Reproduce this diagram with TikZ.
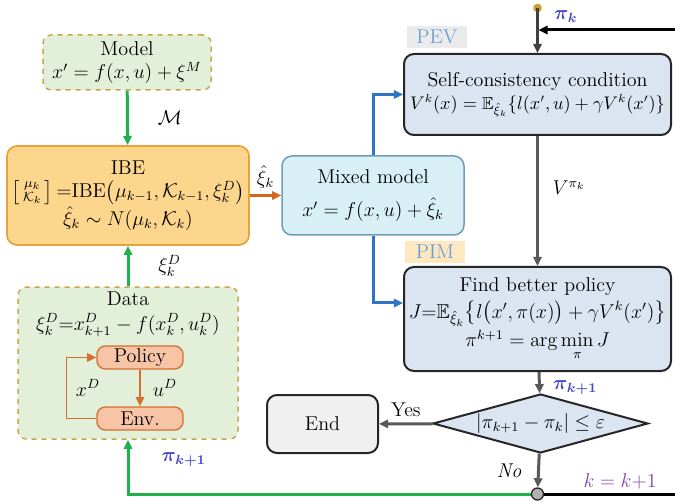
\documentclass[tikz,border=0pt]{standalone}
\usepackage{amsmath,amssymb}
\usepackage{tikz}
\usetikzlibrary{arrows.meta,calc,positioning,shapes.geometric}
\definecolor{FlowGreen}{HTML}{1FB24A}
\definecolor{FlowBlue}{HTML}{2E75C6}
\definecolor{FlowOrange}{HTML}{D5661F}
\definecolor{FlowGray}{HTML}{595959}
\definecolor{EdgeDark}{HTML}{262626}
\definecolor{ModelFill}{HTML}{E2EFD9}
\definecolor{ModelEdge}{HTML}{C9A64A}
\definecolor{IBEFill}{HTML}{FCD68C}
\definecolor{IBEEdge}{HTML}{E8A33C}
\definecolor{MixedFill}{HTML}{D8F0F5}
\definecolor{MixedEdge}{HTML}{6D9EB8}
\definecolor{StepFill}{HTML}{DBE5F1}
\definecolor{EndFill}{HTML}{F0F0F0}
\definecolor{EnvFill}{HTML}{F7C4A6}
\definecolor{EnvEdge}{HTML}{D3702F}
\definecolor{TagText}{HTML}{6F9FD8}
\definecolor{PiBlue}{HTML}{4848C8}
\definecolor{IterPurple}{HTML}{8040B0}
\definecolor{DotGold}{HTML}{C8A030}

\begin{document}
\begin{tikzpicture}[x=0.6pt, y=-0.6pt, font=\large,
    tip/.style={-{Triangle[length=5.5pt,width=5pt]}},
    dashbox/.style={draw=ModelEdge, dashed, fill=ModelFill, rounded corners=5pt, line width=0.9pt},
    stepbox/.style={draw=EdgeDark, fill=StepFill, rounded corners=6pt, line width=1.2pt, align=center, inner sep=0pt},
    envbox/.style={draw=EnvEdge, fill=EnvFill, rounded corners=5pt, line width=0.8pt,
        minimum width=51.6pt, minimum height=13.8pt, inner sep=0pt},
    tagbox/.style={text=TagText, minimum width=36pt, minimum height=13.2pt, inner sep=0pt},
    greenline/.style={tip, draw=FlowGreen, line width=1.8pt},
    blueline/.style={tip, draw=FlowBlue, line width=1.8pt},
    grayline/.style={tip, draw=FlowGray, line width=1.8pt},
    pilabel/.style={text=PiBlue}]
    \useasboundingbox (0,0) rectangle (675,504);

    % Model and IBE
    \node[dashbox, minimum width=100.8pt, minimum height=33pt, align=center] (model) at (127,62.5)
        {Model\\ $x' = f(x,u) + \xi^{M}$};
    \node[draw=IBEEdge, fill=IBEFill, rounded corners=6pt, line width=1pt, align=center,
        minimum width=145.2pt, minimum height=59.4pt, inner sep=0pt] (ibe) at (128,195.5)
        {IBE\\ $\left[\begin{smallmatrix}\mu_k\\ \mathcal{K}_k\end{smallmatrix}\right]
        {=}\mathrm{IBE}\bigl(\mu_{k-1},\mathcal{K}_{k-1},\xi_k^{D}\bigr)$\\
        $\hat{\xi}_k \sim N(\mu_k,\mathcal{K}_k)$};

    % Data block with the policy / environment loop
    \node[dashbox, minimum width=132pt, minimum height=91.2pt] (data) at (128,363) {};
    \node[align=center] (datatxt) at (128,314)
        {Data\\[1pt] $\xi_k^{D}{=}x_{k+1}^{D} - f(x_k^{D},u_k^{D})$};
    \node[envbox] (policy) at (140,357.5) {Policy};
    \node[envbox] (env) at (140,418.5) {Env.};

    % Mixed model
    \node[draw=MixedEdge, fill=MixedFill, rounded corners=6pt, line width=0.9pt, align=center,
        minimum width=109.2pt, minimum height=47.4pt, inner sep=0pt] (mixed) at (373,195.5)
        {Mixed model\\[6pt] $x' = f(x,u) + \hat{\xi}_k$};

    % PEV and PIM
    \node[tagbox, fill=black!8] (pev) at (437,37) {PEV};
    \node[stepbox, minimum width=160.2pt, minimum height=48.6pt] (self) at (537.5,94.5)
        {Self-consistency condition\\
        \fontsize{10.5}{12}\selectfont
        $V^{k}(x) = \mathbb{E}_{\hat{\xi}_k}\{l(x',u) + \gamma V^{k}(x')\}$};
    \node[tagbox, fill=IBEFill!55] (pim) at (435,252) {PIM};
    \node[stepbox, minimum width=160.2pt, minimum height=62.4pt] (better) at (537.5,319)
        {Find better policy\\[2pt]
        $J{=}\mathbb{E}_{\hat{\xi}_k}\bigl\{l\bigl(x',\pi(x)\bigr) + \gamma V^{k}(x')\bigr\}$\\[1pt]
        $\pi^{k+1} = \arg\min\limits_{\pi} J$};

    % Stop test
    \node[diamond, draw=EdgeDark, fill=StepFill, line width=1.2pt, aspect=3.64, inner sep=0pt,
        minimum width=129pt, minimum height=35.4pt] (test) at (540.5,423.5)
        {$|\pi_{k+1} - \pi_k| \le \varepsilon$};
    \node[draw=EdgeDark, fill=EndFill, rounded corners=6pt, line width=1.2pt,
        minimum width=66.6pt, minimum height=34.8pt] (stop) at (322.5,424) {End};

    % Junctions
    \node[circle, draw=EdgeDark, fill=black!30, line width=0.8pt, inner sep=0pt, minimum size=7.2pt] (join) at (537.5,494) {};
    \fill[DotGold] (537.5,8) circle (2.6pt);
    \coordinate (start) at (537.5,8);
    \coordinate (entry) at (537.5,30);
    \coordinate (rin) at (675,30);
    \coordinate (rout) at (675,494);

    % Connectors
    \draw[greenline] (model) -- node[right=14pt] {$\mathcal{M}$} (ibe);
    \draw[greenline] (data) -- node[right=14pt] {$\xi_k^{D}$} (ibe);
    \draw[tip, draw=FlowOrange, line width=1.8pt] (ibe) -- node[above] {$\hat{\xi}_k$} (mixed);
    \draw[blueline] (mixed.north) |- (self.west);
    \draw[blueline] (mixed.south) |- ([yshift=9.6pt]better.west);
    \draw[tip, draw=EnvEdge, line width=0.9pt] (policy) -- node[right=4pt] {$u^{D}$} (env);
    \draw[tip, draw=EnvEdge, line width=0.9pt] (env.west) -- ++(-30,0) |- node[pos=0.25, right=2pt] {$x^{D}$} (policy.west);

    \draw[tip, line width=1.8pt] (rin) -- node[pos=0.8, above, pilabel] {$\boldsymbol{\pi_k}$} ([xshift=0.6pt]entry);
    \draw[tip, draw=black!75, line width=1.3pt] (start) -- (self);
    \draw[grayline] (self) -- node[pos=0.4, right=5pt] {$V^{\pi_k}$} (better);
    \draw[grayline] (better) -- node[pos=0.75, right=4pt, pilabel] {$\boldsymbol{\pi_{k+1}}$} (test);
    \draw[grayline] (test) -- node[above] {Yes} (stop);
    \draw[grayline] (test) -- node[left=6pt] {\textit{No}} (join);
    \draw[line width=1.8pt] (join) -- node[pos=0.58, above=-1pt, text=IterPurple] {$k = k{+}1$} (rout);
    \draw[greenline] (join) -| node[pos=0.82, right=16pt, pilabel] {$\boldsymbol{\pi_{k+1}}$} (data);

\end{tikzpicture}
\end{document}
